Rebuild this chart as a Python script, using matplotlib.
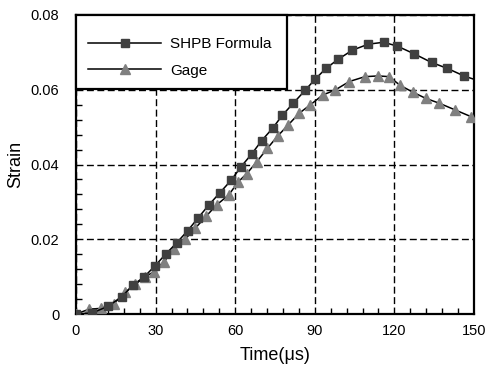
import matplotlib
matplotlib.use('Agg')
import matplotlib.pyplot as plt
from matplotlib.ticker import MultipleLocator, FuncFormatter
from matplotlib.patches import Rectangle

plt.rcParams['font.family'] = ['Liberation Sans', 'DejaVu Sans']

# SHPB formula strain (time in us)
shpb_t = [0, 6.2, 12.2, 17.2, 21.6, 25.8, 29.8, 33.9, 37.9, 42.1, 45.9, 50.1,
          54.3, 58.5, 62.2, 66.2, 70.0, 74.1, 77.8, 81.9, 86.3, 90.1, 94.2,
          98.9, 104.2, 110.2, 115.9, 121.0, 127.5, 134.0, 140.0, 146.2, 150.0]
shpb_e = [0, 0.0003, 0.0021, 0.0046, 0.0078, 0.0100, 0.0129, 0.0161, 0.0190,
          0.0223, 0.0256, 0.0292, 0.0325, 0.0358, 0.0394, 0.0428, 0.0464,
          0.0497, 0.0532, 0.0564, 0.0598, 0.0628, 0.0657, 0.0682, 0.0706,
          0.0722, 0.0727, 0.0717, 0.0696, 0.0673, 0.0657, 0.0637, 0.0628]

# strain gage
gage_t = [0, 5.0, 9.3, 14.3, 18.5, 22.4, 26.0, 29.3, 33.1, 37.1, 41.1, 45.0,
          49.1, 53.0, 57.5, 61.2, 64.3, 68.1, 72.1, 76.0, 80.0, 84.1, 88.2,
          93.0, 97.6, 103.0, 108.9, 113.9, 118.1, 122.1, 127.1, 131.8, 136.9,
          142.9, 148.9, 150.0]
gage_e = [0, 0.0013, 0.0015, 0.0028, 0.0058, 0.0080, 0.0099, 0.0113, 0.0140,
          0.0173, 0.0200, 0.0230, 0.0262, 0.0292, 0.0318, 0.0354, 0.0375,
          0.0407, 0.0443, 0.0476, 0.0506, 0.0537, 0.0559, 0.0586, 0.0599,
          0.0622, 0.0635, 0.0637, 0.0635, 0.0612, 0.0593, 0.0577, 0.0564,
          0.0546, 0.0528, 0.0525]

fig = plt.figure(figsize=(4.88, 3.74), dpi=100)
ax = fig.add_axes([0.1557, 0.1604, 0.8156, 0.7995])

ax.plot(shpb_t, shpb_e, color='black', lw=1.1, marker='s', ms=5.8,
        mfc='#404040', mec='#404040', markevery=list(range(len(shpb_t) - 1)),
        label='SHPB Formula', zorder=4)
ax.plot(gage_t, gage_e, color='black', lw=1.1, marker='^', ms=7.5,
        mfc='#808080', mec='#808080', markevery=list(range(len(gage_t) - 1)),
        label='Gage', zorder=3)

ax.set_xlim(0, 150)
ax.set_ylim(0, 0.08)
ax.xaxis.set_major_locator(MultipleLocator(30))
ax.xaxis.set_minor_locator(MultipleLocator(6))
ax.yaxis.set_major_locator(MultipleLocator(0.02))
ax.yaxis.set_minor_locator(MultipleLocator(0.004))
ax.yaxis.set_major_formatter(FuncFormatter(lambda v, p: '0' if v == 0 else f'{v:.2f}'))

ax.grid(True, which='major', color='black', lw=1.0, linestyle=(0, (5, 2.5)))
ax.tick_params(which='both', direction='in', top=False, right=False,
               labelsize=10.5, width=1.0)
ax.tick_params(which='major', length=0)
ax.tick_params(axis='x', which='major', pad=7)
ax.tick_params(axis='y', which='major', pad=12)
ax.tick_params(which='minor', length=4)
for s in ax.spines.values():
    s.set_linewidth(1.6)

ax.set_xlabel('Time(\u03bcs)', fontsize=13, labelpad=7)
ax.set_ylabel('Strain', fontsize=13, labelpad=5)

# legend box in the upper left corner
ax.add_patch(Rectangle((0, 0.7525), 0.530, 0.2475, transform=ax.transAxes,
                       fc='white', ec='black', lw=1.6, zorder=9, clip_on=False))
leg = ax.legend(loc='upper left', bbox_to_anchor=(0.03, 0.925), borderaxespad=0,
                borderpad=0, frameon=False, fontsize=11, handlelength=4.8,
                handletextpad=0.6, labelspacing=0.8)
leg.set_zorder(10)

fig.savefig('out.png', dpi=100)
